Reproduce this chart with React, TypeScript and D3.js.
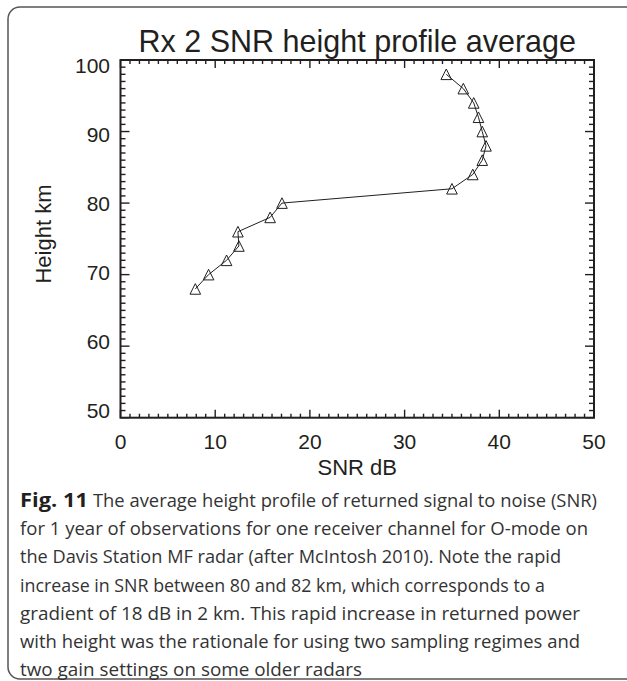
import React from "react";
import * as d3 from "d3";

const heights = [68, 70, 72, 74, 76, 78, 80, 82, 84, 86, 88, 90, 92, 94, 96, 98];
const snr = [7.9, 9.3, 11.2, 12.5, 12.4, 15.8, 17.05, 35.0, 37.2, 38.2, 38.6, 38.2, 37.8, 37.3, 36.2, 34.4];
const xTicks = [0, 10, 20, 30, 40, 50];
const yTicks = [50, 60, 70, 80, 90, 100];
const title = "Rx 2 SNR height profile average";
const xTitle = "SNR dB";
const yTitle = "Height km";
const captionLines = [
  "The average height profile of returned signal to noise (SNR)",
  "for 1 year of observations for one receiver channel for O-mode on",
  "the Davis Station MF radar (after McIntosh 2010). Note the rapid",
  "increase in SNR between 80 and 82 km, which corresponds to a",
  "gradient of 18 dB in 2 km. This rapid increase in returned power",
  "with height was the rationale for using two sampling regimes and",
  "two gain settings on some older radars",
];
const captionWidths = [504, 568, 541, 525, 560, 560, 342];
const captionLabel = "Fig. 11";

const W = 627;
const H = 681;
const L = 120.5, R = 594, T = 60, B = 417.7;
const ink = "#231f20";
const font = "'Liberation Sans', Arial, sans-serif";
const capFont = "'Open Sans', 'Noto Sans', sans-serif";

export default function App() {
  const x = d3.scaleLinear().domain([0, 50]).range([L, R]);
  const y = d3.scaleLinear().domain([50, 100]).range([B, T]);
  const yLab = d3.scaleLinear().domain([50, 100]).range([410.5, 65.5]);
  const xMinor = d3.range(0, 51, 1);
  const yMinor = d3.range(50, 101, 1);
  const pts = heights.map((h, i) => [x(snr[i]), y(h)] as [number, number]);
  const line = d3.line()(pts) || "";
  const tri = (cx: number, cy: number) => {
    const s = 5.3;
    return `M${cx - s},${cy + s}L${cx},${cy - s}L${cx + s},${cy + s}Z`;
  };
  const capY0 = 507;
  const capDy = 28.2;
  return (
    <svg width={W} height={H} style={{ position: "absolute", left: 0, top: 0, background: "#fff" }}>
      <rect x={8} y={7} width={700} height={672} rx={12} ry={12} fill="none" stroke="#555" strokeWidth={1.5} />
      <text x={(L + R) / 2} y={52} textAnchor="middle" fontFamily={font} fontSize={30.5} fill={ink}>{title}</text>
      {xMinor.map((v) => {
        const major = v % 10 === 0;
        const len = major ? 8 : 4;
        return (
          <g key={"xm" + v}>
            <line x1={x(v)} x2={x(v)} y1={B} y2={B - len} stroke={ink} strokeWidth={1.4} />
            <line x1={x(v)} x2={x(v)} y1={T} y2={T + len} stroke={ink} strokeWidth={1.4} />
          </g>
        );
      })}
      {yMinor.map((v) => {
        const major = v % 10 === 0;
        const len = major ? 9 : 5;
        return (
          <g key={"ym" + v}>
            <line x1={L} x2={L + len} y1={y(v)} y2={y(v)} stroke={ink} strokeWidth={1.4} />
            <line x1={R} x2={R - len} y1={y(v)} y2={y(v)} stroke={ink} strokeWidth={1.4} />
          </g>
        );
      })}
      <rect x={L} y={T} width={R - L} height={B - T} fill="none" stroke={ink} strokeWidth={2} />
      {xTicks.map((v) => (
        <text key={"xt" + v} x={x(v)} y={449} textAnchor="middle" fontFamily={font} fontSize={21} fill={ink}>{v}</text>
      ))}
      {yTicks.map((v) => (
        <text key={"yt" + v} x={110} y={yLab(v) + 7.5} textAnchor="end" fontFamily={font} fontSize={21} fill={ink}>{v}</text>
      ))}
      <text x={(L + R) / 2} y={475} textAnchor="middle" fontFamily={font} fontSize={22} fill={ink}>{xTitle}</text>
      <text transform={`translate(51,234) rotate(-90)`} textAnchor="middle" fontFamily={font} fontSize={22} fill={ink}>{yTitle}</text>
      <path d={line} fill="none" stroke={ink} strokeWidth={1} />
      {pts.map(([px, py], i) => (
        <path key={"p" + i} d={tri(px, py)} fill="none" stroke={ink} strokeWidth={1} />
      ))}
      <text x={20} y={capY0} fontFamily={capFont} fontSize={19} fontWeight="bold" fill="#231f20"
        textLength={68} lengthAdjust="spacingAndGlyphs">{captionLabel}</text>
      {captionLines.map((t, i) => (
        <text key={"c" + i} x={i === 0 ? 93 : 20} y={capY0 + i * capDy} fontFamily={capFont} fontSize={19}
          fill="#333" textLength={captionWidths[i]} lengthAdjust="spacingAndGlyphs">
          {t}
        </text>
      ))}
    </svg>
  );
}
